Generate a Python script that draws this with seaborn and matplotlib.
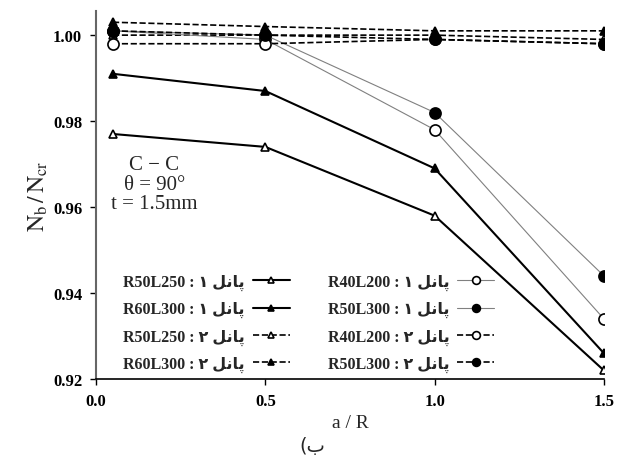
import numpy as np
import pandas as pd
import matplotlib
matplotlib.use('Agg')
import matplotlib.pyplot as plt
import seaborn as sns

# a/R positions
a_over_r = [0.05, 0.5, 1.0, 1.5]

# panel 1 (solid lines)
p1_r50l250 = [0.977, 0.974, 0.958, 0.922]
p1_r60l300 = [0.991, 0.987, 0.969, 0.926]
p1_r40l200 = [1.001, 0.999, 0.978, 0.934]
p1_r50l300 = [1.001, 1.000, 0.982, 0.944]

# panel 2 (dashed lines)
p2_r50l250 = [1.000, 1.000, 1.000, 0.999]
p2_r60l300 = [1.003, 1.002, 1.001, 1.001]
p2_r40l200 = [0.998, 0.998, 0.999, 0.998]
p2_r50l300 = [1.001, 1.000, 0.999, 0.998]

x_ticks = [0.0, 0.5, 1.0, 1.5]
y_ticks = [0.92, 0.94, 0.96, 0.98, 1.00]

# Persian word "panel" in visual order with presentation forms (matplotlib does no shaping)
panel = '\uFEDE\uFEE7\uFE8E\uFB58'
one, two = '\u06F1', '\u06F2'

sns.set_style('white')
plt.rcParams['font.family'] = ['Liberation Serif', 'DejaVu Sans']
plt.rcParams['mathtext.fontset'] = 'stix'

fig = plt.figure(figsize=(6.2, 4.64), dpi=100)
ax = fig.add_axes([0.155, 0.181, 0.819, 0.793])

series = [
    ('R50L250 : ' + one + ' ' + panel, p1_r50l250, '-', '^', 'white', 'black', 1.5, 6),
    ('R60L300 : ' + one + ' ' + panel, p1_r60l300, '-', '^', 'black', 'black', 1.5, 6),
    ('R50L250 : ' + two + ' ' + panel, p2_r50l250, '--', '^', 'white', 'black', 1.2, 6),
    ('R60L300 : ' + two + ' ' + panel, p2_r60l300, '--', '^', 'black', 'black', 1.2, 6),
    ('R40L200 : ' + one + ' ' + panel, p1_r40l200, '-', 'o', 'white', '#808080', 0.8, 8),
    ('R50L300 : ' + one + ' ' + panel, p1_r50l300, '-', 'o', 'black', '#808080', 0.8, 8),
    ('R40L200 : ' + two + ' ' + panel, p2_r40l200, '--', 'o', 'white', 'black', 1.2, 8),
    ('R50L300 : ' + two + ' ' + panel, p2_r50l300, '--', 'o', 'black', 'black', 1.2, 8),
]

for label, vals, ls, mk, mfc, col, lw, ms in series:
    df = pd.DataFrame({'x': a_over_r, 'y': vals})
    sns.lineplot(data=df, x='x', y='y', ax=ax, color=col, linestyle=ls, linewidth=lw,
                 marker=mk, markersize=ms, markerfacecolor=mfc, markeredgecolor='black',
                 markeredgewidth=1.2, label=label)

ax.set_xlim(0, 1.5)
ax.set_ylim(0.92, 1.0056)
ax.set_xticks(x_ticks)
ax.set_yticks(y_ticks)
ax.set_xticklabels([f'{v:.1f}' for v in x_ticks], fontweight='bold', fontsize=12)
ax.set_yticklabels([f'{v:.2f}' for v in y_ticks], fontweight='bold', fontsize=12)
ax.tick_params(axis='both', direction='out', length=4, width=1, colors='black',
               bottom=True, left=True, pad=6)

for s in ['top', 'right']:
    ax.spines[s].set_visible(False)
ax.spines['left'].set_color('#666666')
ax.spines['left'].set_linewidth(1.5)
ax.spines['bottom'].set_color('black')
ax.spines['bottom'].set_linewidth(1.2)

ax.set_xlabel('a / R', fontsize=14, labelpad=4)
ax.set_ylabel(r'$\mathrm{N_b\,/\,N_{cr}}$', fontsize=17, labelpad=2)

ax.text(0.115, 0.53, 'C \u2212 C\n\u03b8 = 90\u00b0\nt = 1.5mm', transform=ax.transAxes,
        ha='center', va='center', fontsize=15, multialignment='center', linespacing=1.05)

leg = ax.legend(loc='upper left', bbox_to_anchor=(0.025, 0.325), ncol=2, frameon=False,
                markerfirst=False, handlelength=2.3, columnspacing=2.4, labelspacing=0.7,
                markerscale=0.7, handletextpad=0.5,
                prop={'weight': 'bold', 'size': 11.5, 'family': ['Liberation Serif', 'DejaVu Sans']})

fig.text(0.503, 0.037, '(\u0628', ha='center', va='center', fontsize=14,
         family=['DejaVu Sans'])

fig.savefig('out.png', dpi=100)
